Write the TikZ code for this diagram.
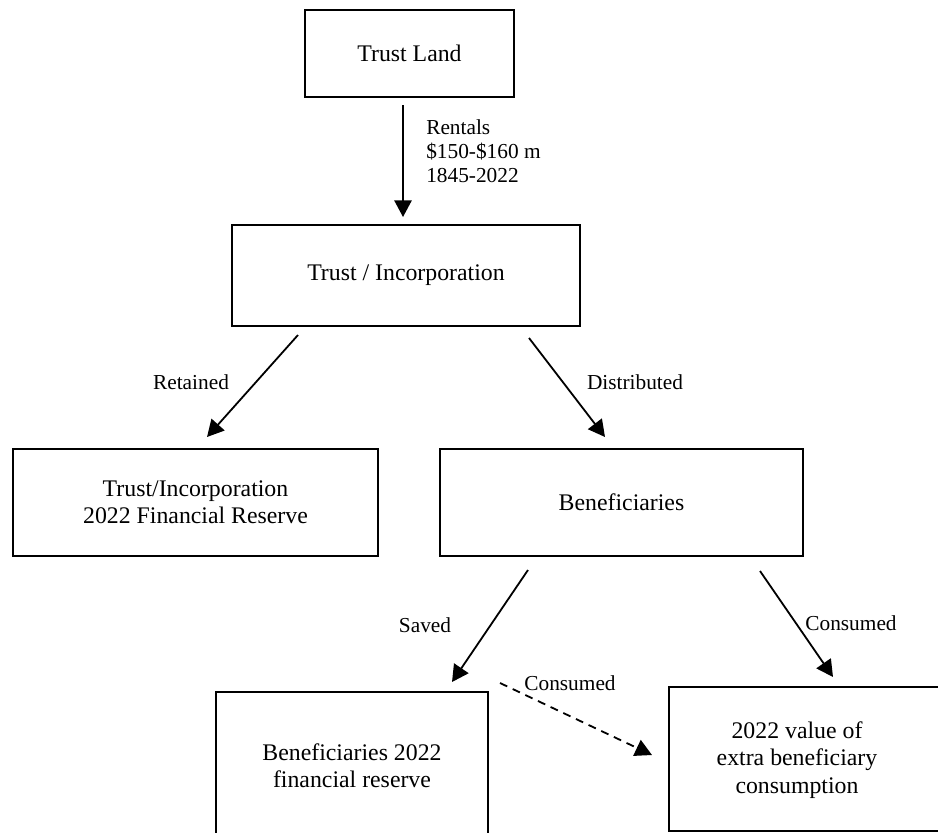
\documentclass[tikz,border=0pt]{standalone}
\usepackage{fontspec}
\setmainfont{Liberation Serif}
\usetikzlibrary{arrows.meta}
\begin{document}
\begin{tikzpicture}[x=0.75pt,y=-0.75pt,
  boxstyle/.style={draw,line width=1.5pt,rectangle,inner sep=0pt,align=center,
    font=\fontsize{17.85}{20.5}\selectfont},
  boxtext/.style={align=center,inner sep=0pt,font=\fontsize{17.85}{20.5}\selectfont},
  lbl/.style={inner sep=0pt,font=\fontsize{16}{18}\selectfont},
  arr/.style={line width=1.35pt,-{Triangle[length=12.5pt,width=13pt]}},
  dasharr/.style={arr,dash pattern=on 6pt off 4.5pt}]
\useasboundingbox (0,0) rectangle (938,832);
\clip (0,0) rectangle (938,832);
% boxes
\node[boxstyle,minimum width=156.75pt,minimum height=65.25pt] (land) at (409.5,53.5) {Trust Land};
\node[boxstyle,minimum width=261pt,minimum height=75.75pt] (trust) at (406,275.5) {Trust / Incorporation};
\node[boxstyle,minimum width=273.75pt,minimum height=80.25pt] (reserve) at (195.5,502.5) {Trust/Incorporation\\2022 Financial Reserve};
\node[boxstyle,minimum width=272.25pt,minimum height=80.25pt] (benef) at (621.5,502.5) {Beneficiaries};
\node[boxstyle,minimum width=204pt,minimum height=111pt] (bres) at (352,766) {Beneficiaries 2022\\financial reserve};
\node[boxstyle,minimum width=207pt,minimum height=108pt] (value) at (807,759) {};
\node[boxtext] (valuetext) at (797,760) {2022 value of\\extra beneficiary\\consumption};
% connector end points
\coordinate (a1s) at (403,105);
\coordinate (a1e) at (403,217);
\coordinate (a2s) at (298,335);
\coordinate (a2e) at (207,437);
\coordinate (a3s) at (529,338);
\coordinate (a3e) at (605,437);
\coordinate (a4s) at (528,570);
\coordinate (a4e) at (452,682);
\coordinate (a5s) at (760,571);
\coordinate (a5e) at (833,677);
\coordinate (a6s) at (500,683);
\coordinate (a6e) at (652,755);
% connectors
\draw[arr] (a1s) -- (a1e);
\draw[arr] (a2s) -- (a2e);
\draw[arr] (a3s) -- (a3e);
\draw[arr] (a4s) -- (a4e);
\draw[arr] (a5s) -- (a5e);
\draw[dasharr] (a6s) -- (a6e);
% labels
\node[lbl,anchor=west,align=left] (lrent) at (426,151) {Rentals\\\$150-\$160 m\\1845-2022};
\node[lbl] (lret) at (191,382) {Retained};
\node[lbl] (ldist) at (635,382) {Distributed};
\node[lbl] (lsaved) at (425,625) {Saved};
\node[lbl] (lcons1) at (851,623) {Consumed};
\node[lbl] (lcons2) at (570,683) {Consumed};
\end{tikzpicture}
\end{document}
